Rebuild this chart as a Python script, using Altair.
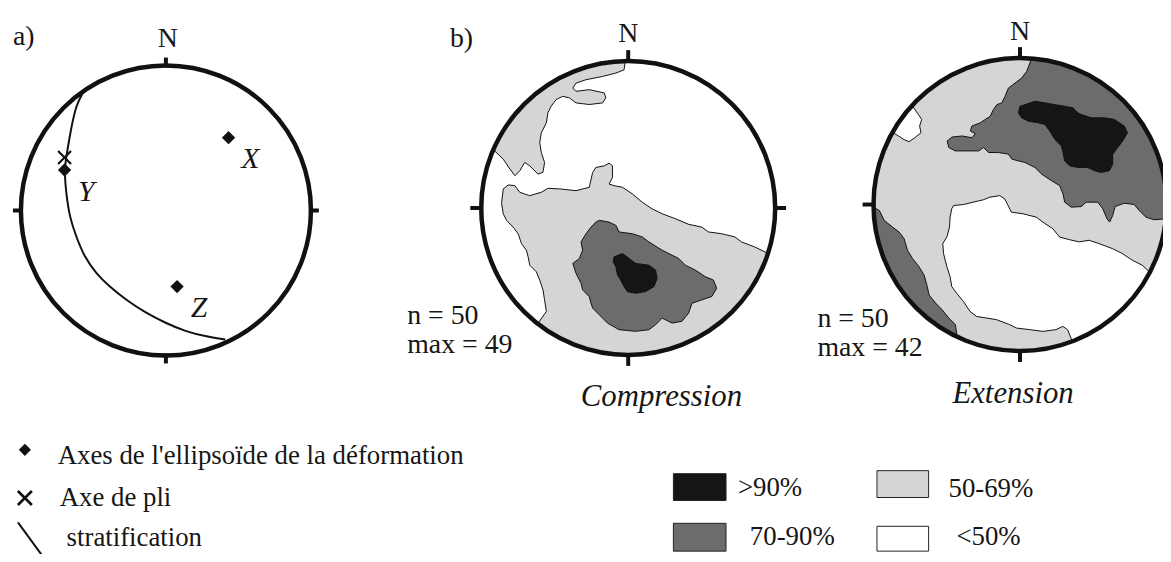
import math
import altair as alt
import pandas as pd

# ------------------------------------------------------------------
# DATA (stereonet coordinates: east, north on the unit net)
# ------------------------------------------------------------------
# a) strain ellipsoid axes, fold axis and bedding great circle
strain_axis_names = ["X", "Y", "Z"]
strain_axis_e = [0.432, -0.699, 0.077]
strain_axis_n = [0.502, 0.279, -0.525]
fold_axis_e = [-0.699]
fold_axis_n = [0.365]
stratification_trace = [
    (-0.573, 0.810), (-0.618, 0.731), (-0.653, 0.571), (-0.676, 0.434),
    (-0.692, 0.342), (-0.699, 0.251), (-0.687, 0.114), (-0.664, -0.046),
    (-0.618, -0.183), (-0.562, -0.320), (-0.482, -0.434), (-0.390, -0.525),
    (-0.276, -0.616), (-0.139, -0.707), (-0.002, -0.776), (0.135, -0.834),
    (0.272, -0.868), (0.409, -0.890),
]

# b) Compression contours
comp_light_top = [
    (-0.02, 1.0), (-0.028, 0.94), (-0.084, 0.918), (-0.175, 0.895), (-0.287, 0.873),
    (-0.355, 0.85), (-0.377, 0.816), (-0.355, 0.794), (-0.265, 0.805), (-0.163, 0.783),
    (-0.152, 0.749), (-0.175, 0.715), (-0.265, 0.704), (-0.355, 0.715), (-0.4, 0.749),
    (-0.445, 0.76), (-0.49, 0.738), (-0.524, 0.693), (-0.546, 0.648), (-0.557, 0.58),
    (-0.591, 0.512), (-0.602, 0.445), (-0.591, 0.377), (-0.569, 0.31), (-0.58, 0.242),
    (-0.614, 0.231), (-0.67, 0.287), (-0.704, 0.31), (-0.738, 0.253), (-0.771, 0.22),
    (-0.805, 0.265), (-0.85, 0.332), (-0.918, 0.397),
]
comp_light_main = [
    (-0.616, -0.788), (-0.557, -0.704), (-0.569, -0.625), (-0.58, -0.557), (-0.602, -0.49),
    (-0.625, -0.434), (-0.67, -0.389), (-0.681, -0.332), (-0.693, -0.287), (-0.726, -0.242),
    (-0.749, -0.175), (-0.783, -0.13), (-0.828, -0.084), (-0.85, -0.039), (-0.861, 0.028),
    (-0.861, 0.039), (-0.85, 0.13), (-0.816, 0.157), (-0.771, 0.152), (-0.738, 0.107),
    (-0.67, 0.084), (-0.591, 0.107), (-0.546, 0.134), (-0.467, 0.13), (-0.355, 0.118),
    (-0.265, 0.141), (-0.242, 0.242), (-0.22, 0.276), (-0.163, 0.287), (-0.13, 0.305),
    (-0.107, 0.287), (-0.107, 0.208), (-0.13, 0.163), (-0.096, 0.152), (-0.039, 0.141),
    (0.028, 0.096), (0.096, 0.039), (0.163, -0.006), (0.231, -0.039), (0.321, -0.073),
    (0.411, -0.111), (0.501, -0.13), (0.546, -0.163), (0.636, -0.175), (0.726, -0.197),
    (0.771, -0.231), (0.861, -0.265), (0.951, -0.309),
]
comp_dark = [
    (-0.197, -0.084), (-0.13, -0.096), (-0.084, -0.118), (-0.062, -0.163), (0.028, -0.175),
    (0.096, -0.197), (0.141, -0.231), (0.231, -0.287), (0.298, -0.321), (0.343, -0.343),
    (0.389, -0.389), (0.456, -0.422), (0.524, -0.467), (0.58, -0.49), (0.602, -0.546),
    (0.569, -0.602), (0.501, -0.625), (0.434, -0.648), (0.411, -0.715), (0.366, -0.771),
    (0.298, -0.783), (0.231, -0.749), (0.186, -0.794), (0.141, -0.828), (0.051, -0.839),
    (-0.062, -0.828), (-0.141, -0.783), (-0.197, -0.726), (-0.242, -0.681), (-0.253, -0.648),
    (-0.265, -0.603), (-0.31, -0.557), (-0.321, -0.512), (-0.355, -0.445), (-0.377, -0.377),
    (-0.332, -0.343), (-0.31, -0.287), (-0.321, -0.231), (-0.287, -0.175), (-0.253, -0.13),
    (-0.22, -0.096),
]
comp_black = [
    (-0.096, -0.332), (-0.039, -0.31), (0.006, -0.343), (0.051, -0.377), (0.141, -0.389),
    (0.186, -0.422), (0.197, -0.479), (0.175, -0.535), (0.118, -0.569), (0.051, -0.58),
    (-0.006, -0.569), (-0.028, -0.535), (-0.051, -0.49), (-0.073, -0.456), (-0.084, -0.4),
    (-0.102, -0.366),
]

# b) Extension contours
ext_dark_main = [
    (0.08, 0.997), (0.045, 0.908), (0.011, 0.863), (-0.034, 0.829), (-0.079, 0.795),
    (-0.102, 0.739), (-0.124, 0.694), (-0.158, 0.682), (-0.181, 0.649), (-0.203, 0.603),
    (-0.237, 0.581), (-0.271, 0.558), (-0.328, 0.536), (-0.339, 0.502), (-0.305, 0.484),
    (-0.328, 0.456), (-0.395, 0.468), (-0.463, 0.461), (-0.497, 0.434), (-0.486, 0.389),
    (-0.441, 0.366), (-0.35, 0.366), (-0.282, 0.366), (-0.249, 0.389), (-0.215, 0.355),
    (-0.147, 0.355), (-0.079, 0.344), (-0.056, 0.31), (-0.011, 0.298), (0.034, 0.287),
    (0.102, 0.253), (0.147, 0.208), (0.215, 0.163), (0.271, 0.129), (0.294, 0.072),
    (0.305, 0.016), (0.35, -0.018), (0.418, -0.014), (0.452, 0.016), (0.531, 0.016),
    (0.565, -0.029), (0.594, -0.097), (0.612, -0.12), (0.633, -0.075), (0.649, -0.014),
    (0.712, 0.009), (0.78, 0.0), (0.814, -0.041), (0.859, -0.086), (0.915, -0.104),
    (0.994, -0.098),
]
ext_dark_left = [
    (-1.0, -0.017), (-0.96, -0.041), (-0.927, -0.108), (-0.87, -0.154), (-0.825, -0.188),
    (-0.791, -0.233), (-0.768, -0.312), (-0.734, -0.368), (-0.689, -0.425), (-0.655, -0.481),
    (-0.633, -0.56), (-0.621, -0.617), (-0.576, -0.673), (-0.531, -0.719), (-0.486, -0.775),
    (-0.441, -0.82), (-0.429, -0.903),
]
ext_black = [
    (0.0, 0.671), (0.034, 0.682), (0.102, 0.705), (0.169, 0.694), (0.237, 0.682),
    (0.305, 0.671), (0.362, 0.66), (0.395, 0.626), (0.418, 0.615), (0.486, 0.592),
    (0.576, 0.592), (0.644, 0.581), (0.712, 0.536), (0.734, 0.49), (0.701, 0.434),
    (0.667, 0.389), (0.633, 0.343), (0.633, 0.276), (0.61, 0.231), (0.554, 0.219),
    (0.508, 0.231), (0.463, 0.253), (0.395, 0.253), (0.339, 0.264), (0.305, 0.298),
    (0.294, 0.355), (0.282, 0.4), (0.237, 0.445), (0.203, 0.502), (0.169, 0.547),
    (0.124, 0.558), (0.056, 0.569), (0.011, 0.592), (-0.011, 0.626),
]
ext_white_small = [
    (-0.737, 0.676), (-0.694, 0.615), (-0.671, 0.581), (-0.685, 0.536), (-0.676, 0.49),
    (-0.712, 0.461), (-0.757, 0.429), (-0.791, 0.443), (-0.87, 0.494),
]
ext_white_center = [
    (0.357, -0.934), (0.325, -0.854), (0.292, -0.832), (0.246, -0.854), (0.156, -0.866),
    (0.066, -0.854), (-0.025, -0.843), (-0.07, -0.82), (-0.16, -0.786), (-0.228, -0.775),
    (-0.296, -0.764), (-0.341, -0.73), (-0.386, -0.662), (-0.432, -0.606), (-0.466, -0.56),
    (-0.477, -0.493), (-0.499, -0.425), (-0.522, -0.334), (-0.527, -0.267), (-0.499, -0.221),
    (-0.481, -0.154), (-0.477, -0.086), (-0.466, -0.029), (-0.454, -0.007), (-0.386, 0.0),
    (-0.319, 0.016), (-0.251, 0.032), (-0.206, 0.05), (-0.138, 0.061), (-0.104, 0.038),
    (-0.081, -0.007), (-0.059, -0.052), (0.02, -0.063), (0.111, -0.086), (0.156, -0.12),
    (0.224, -0.165), (0.269, -0.221), (0.337, -0.24), (0.405, -0.255), (0.472, -0.244),
    (0.54, -0.267), (0.631, -0.301), (0.698, -0.334), (0.766, -0.38), (0.834, -0.414),
    (0.887, -0.462),
]

density_classes = [">90%", "70-90%", "50-69%", "<50%"]
density_colors = ["#151515", "#6c6c6c", "#d5d5d5", "#ffffff"]

net_stats = [("n = 50", "max = 49"), ("n = 50", "max = 42")]
net_titles = ["Compression", "Extension"]
legend_texts = ["Axes de l'ellipsoïde de la déformation", "Axe de pli", "stratification"]

# ------------------------------------------------------------------
# LAYOUT
# ------------------------------------------------------------------
W, H = 1163, 546
FONT = "Liberation Serif"
INK = "#161616"
COL = dict(zip(density_classes, density_colors))

NETS = {  # centre x, centre y, radius, tick length (page pixels)
    "a": (167, 210, 146, 8),
    "comp": (632.5, 207.5, 148, 11),
    "ext": (1027, 204, 147.5, 11),
}
NET_BASE = {"a": "<50%", "comp": "<50%", "ext": "50-69%"}

POLYS = [  # net, class, trace, closing arc direction
    ("comp", "50-69%", comp_light_top, "cw"),
    ("comp", "50-69%", comp_light_main, "cw"),
    ("comp", "70-90%", comp_dark, None),
    ("comp", ">90%", comp_black, None),
    ("ext", "<50%", ext_white_small, "cw"),
    ("ext", "<50%", ext_white_center, "cw"),
    ("ext", "70-90%", ext_dark_main, "ccw"),
    ("ext", "70-90%", ext_dark_left, "cw"),
    ("ext", ">90%", ext_black, None),
]


def to_page(net, e, n):
    cx, cy, r, _ = NETS[net]
    return cx + e * r, cy - n * r


def closed_ring(pts, close):
    pts = list(pts)
    if close:
        a_from = math.degrees(math.atan2(pts[-1][1], pts[-1][0]))
        a_to = math.degrees(math.atan2(pts[0][1], pts[0][0]))
        if close == "ccw":
            sweep, sgn = (a_to - a_from) % 360, 1
        else:
            sweep, sgn = (a_from - a_to) % 360, -1
        k = max(2, int(sweep / 3))
        for j in range(1, k):
            a = math.radians(a_from + sgn * sweep * j / k)
            pts.append((math.cos(a), math.sin(a)))
    pts.append(pts[0])
    return pts


poly_rows = []
for pid, (net, cls, trace, close) in enumerate(POLYS):
    for i, (e, n) in enumerate(closed_ring(trace, close)):
        x, y = to_page(net, e, n)
        poly_rows.append(dict(pid=pid, i=i, x=x, y=y, cls=cls))
poly_df = pd.DataFrame(poly_rows)

net_df = pd.DataFrame([
    dict(net=k, x=v[0], y=v[1], size=(2 * v[2]) ** 2, base=COL[NET_BASE[k]])
    for k, v in NETS.items()
])

tick_rows = []
for k, (cx, cy, r, tl) in NETS.items():
    for ang in (0, 90, 180, 270):
        ca, sa = math.cos(math.radians(ang)), math.sin(math.radians(ang))
        tick_rows.append(dict(x=cx + (r - 2) * ca, y=cy - (r - 2) * sa,
                              x2=cx + (r + tl) * ca, y2=cy - (r + tl) * sa))
tick_df = pd.DataFrame(tick_rows)

strat_df = pd.DataFrame([
    dict(i=i, x=to_page("a", e, n)[0], y=to_page("a", e, n)[1])
    for i, (e, n) in enumerate(stratification_trace)
])
axes_df = pd.DataFrame([
    dict(name=nm, x=to_page("a", e, n)[0], y=to_page("a", e, n)[1])
    for nm, e, n in zip(strain_axis_names, strain_axis_e, strain_axis_n)
])
fold_df = pd.DataFrame([
    dict(x=to_page("a", e, n)[0], y=to_page("a", e, n)[1])
    for e, n in zip(fold_axis_e, fold_axis_n)
])

# text layout (page pixels; y = baseline)
ROW2 = 547  # second row of the density legend
plain_left = pd.DataFrame([
    dict(t="a)", x=13, y=43, fs=28),
    dict(t="b)", x=453, y=45, fs=28),
    dict(t=net_stats[0][0], x=410, y=324, fs=28),
    dict(t=net_stats[0][1], x=410, y=354, fs=28),
    dict(t=net_stats[1][0], x=823, y=327, fs=28),
    dict(t=net_stats[1][1], x=823, y=357, fs=28),
    dict(t=legend_texts[0], x=58, y=465, fs=27),
    dict(t=legend_texts[1], x=60, y=508, fs=27),
    dict(t=legend_texts[2], x=67, y=548, fs=27),
    dict(t=density_classes[0], x=743, y=497, fs=27),
    dict(t=density_classes[1], x=755, y=ROW2, fs=27),
    dict(t=density_classes[2], x=955, y=498, fs=27),
    dict(t=density_classes[3], x=963, y=ROW2, fs=27),
])
plain_center = pd.DataFrame([
    dict(t="N", x=NETS["a"][0] + 2, y=45, fs=28),
    dict(t="N", x=NETS["comp"][0], y=40, fs=28),
    dict(t="N", x=NETS["ext"][0], y=38, fs=28),
])
italic_center = pd.DataFrame([
    dict(t=net_titles[0], x=666, y=407, fs=31),
    dict(t=net_titles[1], x=1020, y=404, fs=31),
])

box_df = pd.DataFrame([
    dict(cls=density_classes[0], x=678, y=475, x2=731, y2=502),
    dict(cls=density_classes[1], x=678, y=ROW2 - 22, x2=731, y2=ROW2 + 6),
    dict(cls=density_classes[2], x=883, y=472, x2=935, y2=499),
    dict(cls=density_classes[3], x=883, y=ROW2 - 19, x2=935, y2=ROW2 + 6),
])
leg_diamond = pd.DataFrame([dict(x=25, y=451)])
leg_cross = pd.DataFrame([dict(x=25, y=499.5)])
leg_line = pd.DataFrame([dict(x=18, y=524, x2=45, y2=561)])

# ------------------------------------------------------------------
# CHART
# ------------------------------------------------------------------
XS = alt.Scale(domain=[8, 8 + W], nice=False, zero=False)
YS = alt.Scale(domain=[8, 8 + H], nice=False, zero=False, reverse=True)


def X(f="x"):
    return alt.X(f"{f}:Q", scale=XS, axis=None)


def Y(f="y"):
    return alt.Y(f"{f}:Q", scale=YS, axis=None)


discs = alt.Chart(net_df).mark_point(shape="circle", filled=True, opacity=1, strokeWidth=0).encode(
    x=X(), y=Y(), size=alt.Size("size:Q", scale=None), fill=alt.Fill("base:N", scale=None))

poly_layers = []
for cls in ["50-69%", "<50%", "70-90%", ">90%"]:
    sub = poly_df[poly_df.cls == cls]
    poly_layers.append(
        alt.Chart(sub).mark_line(fill=COL[cls], stroke="#111111", strokeWidth=1, strokeJoin="round").encode(
            x=X(), y=Y(), detail="pid:N", order="i:Q"))

outlines = alt.Chart(net_df).mark_point(shape="circle", filled=False, stroke="#111111", strokeWidth=4.5,
                                        opacity=1).encode(
    x=X(), y=Y(), size=alt.Size("size:Q", scale=None))

ticks = alt.Chart(tick_df).mark_rule(color="#111111", strokeWidth=4).encode(
    x=X(), y=Y(), x2="x2:Q", y2="y2:Q")

strat = alt.Chart(strat_df).mark_line(color="#111111", strokeWidth=2, interpolate="basis").encode(
    x=X(), y=Y(), order="i:Q")

CROSS = "M-1,-1L1,1M-1,1L1,-1"
diamonds = alt.Chart(axes_df).mark_point(shape="diamond", filled=True, size=180, color="#111111", opacity=1).encode(
    x=X(), y=Y())
axis_labels = alt.Chart(axes_df).mark_text(font=FONT, fontStyle="italic", fontSize=30, align="center",
                                           baseline="alphabetic", dx=22, dy=31, color=INK).encode(
    x=X(), y=Y(), text="name:N")
fold = alt.Chart(fold_df).mark_point(shape=CROSS, filled=False, size=170, strokeWidth=2.2,
                                     color="#111111", opacity=1).encode(x=X(), y=Y())


def text_layer(df, align, style="normal"):
    return alt.Chart(df).mark_text(font=FONT, fontStyle=style, align=align, baseline="alphabetic",
                                   color=INK).encode(
        x=X(), y=Y(), text="t:N", size=alt.Size("fs:Q", scale=None))


boxes = alt.Chart(box_df).mark_rect(stroke="#222222", strokeWidth=1).encode(
    x=X(), y=Y(), x2="x2:Q", y2="y2:Q",
    fill=alt.Fill("cls:N", scale=alt.Scale(domain=density_classes, range=density_colors), legend=None))
leg_d = alt.Chart(leg_diamond).mark_point(shape="diamond", filled=True, size=150, color="#111111",
                                          opacity=1).encode(x=X(), y=Y())
leg_c = alt.Chart(leg_cross).mark_point(shape=CROSS, filled=False, size=200, strokeWidth=2.6,
                                        color="#111111", opacity=1).encode(x=X(), y=Y())
leg_l = alt.Chart(leg_line).mark_rule(color="#111111", strokeWidth=2).encode(
    x=X(), y=Y(), x2="x2:Q", y2="y2:Q")

chart = alt.layer(
    discs, *poly_layers, outlines, ticks, strat, diamonds, fold, axis_labels,
    text_layer(plain_left, "left"), text_layer(plain_center, "center"),
    text_layer(italic_center, "center", "italic"),
    boxes, leg_d, leg_c, leg_l,
).properties(
    width=W, height=H, autosize=alt.AutoSizeParams(type="none"), padding=0, background="white"
).configure_view(stroke=None)

chart.save("out.html", embed_options={"renderer": "svg", "actions": False})
